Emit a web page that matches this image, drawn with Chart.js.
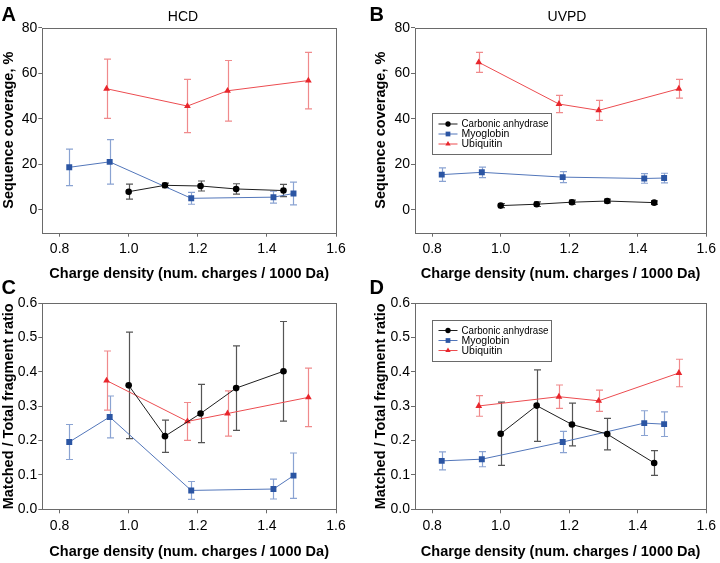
<!DOCTYPE html>
<html>
<head>
<meta charset="utf-8">
<script src="https://cdn.jsdelivr.net/npm/chart.js@4.4.0/dist/chart.umd.min.js"></script>
<style>
  html, body { margin: 0; padding: 0; background: #fff; }
  #wrap { position: relative; width: 720px; height: 563px; }
  #wrap canvas { position: absolute; left: 0; top: 0; }
</style>
</head>
<body>
<div id="wrap">
  <canvas id="panelA" width="720" height="563"></canvas>
  <canvas id="panelB" width="720" height="563"></canvas>
  <canvas id="panelC" width="720" height="563"></canvas>
  <canvas id="panelD" width="720" height="563"></canvas>
</div>
<script>
// charge density (num. charges / 1000 Da) of each charge state
const xCarbonic = [1.000, 1.105, 1.208, 1.311, 1.448];
const xMyoglobin = [0.828, 0.945, 1.181, 1.419, 1.477];
const xUbiquitin = [0.936, 1.170, 1.286, 1.520];

// A - HCD sequence coverage (%)
const hcdCovCarbonic = [8.0, 10.8, 10.5, 9.2, 8.5];
const hcdCovCarbonicErr = [3.3, 1.0, 2.2, 2.3, 2.7];
const hcdCovMyoglobin = [18.7, 21.1, 5.1, 5.6, 7.2];
const hcdCovMyoglobinErr = [8.0, 9.8, 2.6, 2.6, 5.0];
const hcdCovUbiquitin = [53.2, 45.6, 52.3, 56.8];
const hcdCovUbiquitinErr = [13.0, 11.7, 13.3, 12.4];

// B - UVPD sequence coverage (%)
const uvpdCovCarbonic = [1.9, 2.5, 3.4, 3.9, 3.2];
const uvpdCovCarbonicErr = [0.9, 1.0, 0.9, 0.8, 0.8];
const uvpdCovMyoglobin = [15.5, 16.5, 14.4, 13.8, 14.0];
const uvpdCovMyoglobinErr = [3.0, 2.3, 2.4, 2.1, 2.1];
const uvpdCovUbiquitin = [64.8, 46.5, 43.7, 53.2];
const uvpdCovUbiquitinErr = [4.4, 3.8, 4.4, 4.1];

// C - HCD matched / total fragment ratio
const hcdRatioCarbonic = [0.361, 0.213, 0.279, 0.353, 0.402];
const hcdRatioCarbonicErr = [0.155, 0.047, 0.085, 0.123, 0.145];
const hcdRatioMyoglobin = [0.196, 0.269, 0.055, 0.059, 0.098];
const hcdRatioMyoglobinErr = [0.051, 0.061, 0.026, 0.029, 0.066];
const hcdRatioUbiquitin = [0.375, 0.256, 0.279, 0.326];
const hcdRatioUbiquitinErr = [0.086, 0.055, 0.066, 0.085];

// D - UVPD matched / total fragment ratio
const uvpdRatioCarbonic = [0.220, 0.302, 0.247, 0.219, 0.135];
const uvpdRatioCarbonicErr = [0.092, 0.104, 0.062, 0.046, 0.036];
const uvpdRatioMyoglobin = [0.141, 0.146, 0.196, 0.251, 0.248];
const uvpdRatioMyoglobinErr = [0.026, 0.022, 0.031, 0.036, 0.036];
const uvpdRatioUbiquitin = [0.301, 0.328, 0.316, 0.397];
const uvpdRatioUbiquitinErr = [0.030, 0.034, 0.031, 0.040];

// tick labels
const xTicks = [0.8, 1.0, 1.2, 1.4, 1.6];
const coverageTicks = [0, 20, 40, 60, 80];
const ratioTicks = [0.0, 0.1, 0.2, 0.3, 0.4, 0.5, 0.6];

const FONT = "'Liberation Sans', Arial, Helvetica, sans-serif";
const W = 720, H = 563;

const proteins = [
  { label: 'Carbonic anhydrase', x: xCarbonic, color: '#000000', line: '#1e1e1e', err: '#555555', pointStyle: 'circle', radius: 3.3 },
  { label: 'Myoglobin', x: xMyoglobin, color: '#2b55a3', line: '#5276ba', err: '#8aa3d2', pointStyle: 'rect', radius: 4.2 },
  { label: 'Ubiquitin', x: xUbiquitin, color: '#e8262c', line: '#ec4c50', err: '#f08a8c', pointStyle: 'triangle', radius: 3.9 }
];

function buildDatasets(values, errors) {
  return proteins.map((p, i) => ({
    label: p.label,
    data: p.x.map((x, j) => ({ x: x, y: values[i][j] })),
    errors: errors[i],
    errorColor: p.err,
    borderColor: p.line,
    borderWidth: 1,
    pointStyle: p.pointStyle,
    pointRadius: p.radius,
    pointBorderWidth: 0,
    pointBackgroundColor: p.color,
    tension: 0,
    fill: false
  }));
}

function drawMarker(ctx, style, x, y, r) {
  ctx.beginPath();
  if (style === 'circle') {
    ctx.arc(x, y, r, 0, Math.PI * 2);
  } else if (style === 'rect') {
    const s = r * Math.SQRT1_2;
    ctx.rect(x - s, y - s, s * 2, s * 2);
  } else {
    ctx.moveTo(x, y - r);
    ctx.lineTo(x + r * 0.866, y + r * 0.5);
    ctx.lineTo(x - r * 0.866, y + r * 0.5);
    ctx.closePath();
  }
  ctx.fill();
}

// box around the plot area
const plotFrame = {
  id: 'plotFrame',
  beforeDatasetsDraw(chart) {
    const { ctx, chartArea: a } = chart;
    ctx.save();
    ctx.strokeStyle = '#6a6a6a';
    ctx.lineWidth = 1;
    const l = Math.round(a.left) + 0.5, t = Math.round(a.top) + 0.5;
    const r = Math.round(a.right) + 0.5, b = Math.round(a.bottom) + 0.5;
    ctx.strokeRect(l, t, r - l, b - t);
    ctx.restore();
  }
};

// vertical error bars with caps
const errorBars = {
  id: 'errorBars',
  beforeDatasetsDraw(chart) {
    const { ctx, scales } = chart;
    chart.data.datasets.forEach(ds => {
      ctx.save();
      ctx.strokeStyle = ds.errorColor;
      ctx.lineWidth = 1.2;
      ds.data.forEach((p, j) => {
        const e = ds.errors[j];
        const px = Math.round(scales.x.getPixelForValue(p.x)) + 0.5;
        const top = scales.y.getPixelForValue(p.y + e);
        const bot = scales.y.getPixelForValue(p.y - e);
        ctx.beginPath();
        ctx.moveTo(px, top); ctx.lineTo(px, bot);
        ctx.moveTo(px - 3.5, top); ctx.lineTo(px + 3.5, top);
        ctx.moveTo(px - 3.5, bot); ctx.lineTo(px + 3.5, bot);
        ctx.stroke();
      });
      ctx.restore();
    });
  }
};

// legend drawn inside the plot area
const insetLegend = {
  id: 'insetLegend',
  afterDatasetsDraw(chart, args, opts) {
    if (!opts.show) return;
    const { ctx, chartArea: a } = chart;
    const x0 = Math.round(a.left + opts.dx) + 0.5, y0 = Math.round(a.top + opts.dy) + 0.5;
    ctx.save();
    ctx.fillStyle = '#fff';
    ctx.fillRect(x0, y0, opts.w, opts.h);
    ctx.strokeStyle = '#6a6a6a';
    ctx.lineWidth = 1;
    ctx.strokeRect(x0, y0, opts.w, opts.h);
    ctx.font = '10.5px ' + FONT;
    ctx.textBaseline = 'middle';
    chart.data.datasets.forEach((ds, i) => {
      const ry = y0 + opts.firstRow + i * 10;
      ctx.strokeStyle = ds.borderColor;
      ctx.beginPath();
      ctx.moveTo(x0 + 6, ry); ctx.lineTo(x0 + 25, ry);
      ctx.stroke();
      ctx.fillStyle = ds.pointBackgroundColor;
      drawMarker(ctx, ds.pointStyle, x0 + 15.5, ry, ds.pointRadius * 0.8);
      ctx.fillStyle = '#000';
      ctx.fillText(ds.label, x0 + 29, ry + 0.5, 87);
    });
    ctx.restore();
  }
};

// panel letter and method title
const panelLabel = {
  id: 'panelLabel',
  afterDraw(chart, args, opts) {
    const ctx = chart.ctx;
    ctx.save();
    ctx.fillStyle = '#000';
    ctx.textBaseline = 'alphabetic';
    ctx.textAlign = 'left';
    ctx.font = 'bold 20px ' + FONT;
    ctx.fillText(opts.letter, opts.letterX, opts.letterY);
    if (opts.title) {
      ctx.textAlign = 'center';
      ctx.font = '14px ' + FONT;
      ctx.fillText(opts.title, opts.titleX, opts.titleY);
    }
    ctx.restore();
  }
};

function makeChart(id, p) {
  const yTicks = p.yTicks;
  return new Chart(document.getElementById(id), {
    type: 'line',
    data: { datasets: buildDatasets(p.values, p.errors) },
    plugins: [plotFrame, errorBars, insetLegend, panelLabel],
    options: {
      responsive: false,
      animation: false,
      events: [],
      layout: {
        padding: { left: p.scaleLeft, top: p.plot.top, right: W - p.plot.right, bottom: H - p.scaleBottom }
      },
      plugins: {
        legend: { display: false },
        tooltip: { enabled: false },
        insetLegend: p.legend || { show: false },
        panelLabel: p.label
      },
      scales: {
        x: {
          type: 'linear',
          min: 0.75,
          max: 1.6,
          afterFit(s) { s.height = p.scaleBottom - p.plot.bottom; },
          afterBuildTicks(s) { s.ticks = xTicks.map(v => ({ value: v })); },
          ticks: {
            callback: v => v.toFixed(1),
            font: { family: FONT, size: 14 },
            color: '#000',
            padding: 4,
            maxRotation: 0,
            autoSkip: false
          },
          grid: { drawOnChartArea: false, tickLength: 4, color: '#6a6a6a' },
          border: { display: false },
          title: {
            display: true,
            text: 'Charge density (num. charges / 1000 Da)',
            font: { family: FONT, size: 14.5, weight: 'bold' },
            color: '#000',
            padding: 0
          }
        },
        y: {
          type: 'linear',
          min: p.yMin,
          max: p.yMax,
          afterFit(s) { s.width = p.plot.left - p.scaleLeft; },
          afterBuildTicks(s) { s.ticks = yTicks.map(v => ({ value: v })); },
          ticks: {
            callback: v => v.toFixed(p.decimals),
            font: { family: FONT, size: 14 },
            color: '#000',
            padding: 1,
            autoSkip: false
          },
          grid: { drawOnChartArea: false, tickLength: 4, color: '#6a6a6a' },
          border: { display: false },
          title: {
            display: true,
            text: p.yTitle,
            font: { family: FONT, size: 14.5, weight: 'bold' },
            color: '#000',
            padding: 0
          }
        }
      }
    }
  });
}

makeChart('panelA', {
  plot: { left: 42.3, top: 27.7, right: 336, bottom: 232.7 },
  scaleLeft: 0, scaleBottom: 283,
  yMin: -10, yMax: 80, yTicks: coverageTicks, decimals: 0,
  yTitle: 'Sequence coverage, %',
  values: [hcdCovCarbonic, hcdCovMyoglobin, hcdCovUbiquitin],
  errors: [hcdCovCarbonicErr, hcdCovMyoglobinErr, hcdCovUbiquitinErr],
  label: { letter: 'A', letterX: 1.5, letterY: 20.5, title: 'HCD', titleX: 183, titleY: 20.5 }
});

makeChart('panelB', {
  plot: { left: 415, top: 27.7, right: 708.7, bottom: 232.7 },
  scaleLeft: 372.1, scaleBottom: 283,
  yMin: -10, yMax: 80, yTicks: coverageTicks, decimals: 0,
  yTitle: 'Sequence coverage, %',
  values: [uvpdCovCarbonic, uvpdCovMyoglobin, uvpdCovUbiquitin],
  errors: [uvpdCovCarbonicErr, uvpdCovMyoglobinErr, uvpdCovUbiquitinErr],
  legend: { show: true, dx: 16.7, dy: 85, w: 119, h: 41, firstRow: 10.5 },
  label: { letter: 'B', letterX: 369.5, letterY: 20.5, title: 'UVPD', titleX: 567, titleY: 20.5 }
});

makeChart('panelC', {
  plot: { left: 42.3, top: 303.3, right: 336, bottom: 509.3 },
  scaleLeft: 0, scaleBottom: 560.4,
  yMin: 0, yMax: 0.6, yTicks: ratioTicks, decimals: 1,
  yTitle: 'Matched / Total fragment ratio',
  values: [hcdRatioCarbonic, hcdRatioMyoglobin, hcdRatioUbiquitin],
  errors: [hcdRatioCarbonicErr, hcdRatioMyoglobinErr, hcdRatioUbiquitinErr],
  label: { letter: 'C', letterX: 1.5, letterY: 294 }
});

makeChart('panelD', {
  plot: { left: 415, top: 303.3, right: 708.7, bottom: 509.3 },
  scaleLeft: 372.1, scaleBottom: 560.4,
  yMin: 0, yMax: 0.6, yTicks: ratioTicks, decimals: 1,
  yTitle: 'Matched / Total fragment ratio',
  values: [uvpdRatioCarbonic, uvpdRatioMyoglobin, uvpdRatioUbiquitin],
  errors: [uvpdRatioCarbonicErr, uvpdRatioMyoglobinErr, uvpdRatioUbiquitinErr],
  legend: { show: true, dx: 16.7, dy: 16.7, w: 119, h: 41, firstRow: 10 },
  label: { letter: 'D', letterX: 369.5, letterY: 294 }
});
</script>
</body>
</html>
